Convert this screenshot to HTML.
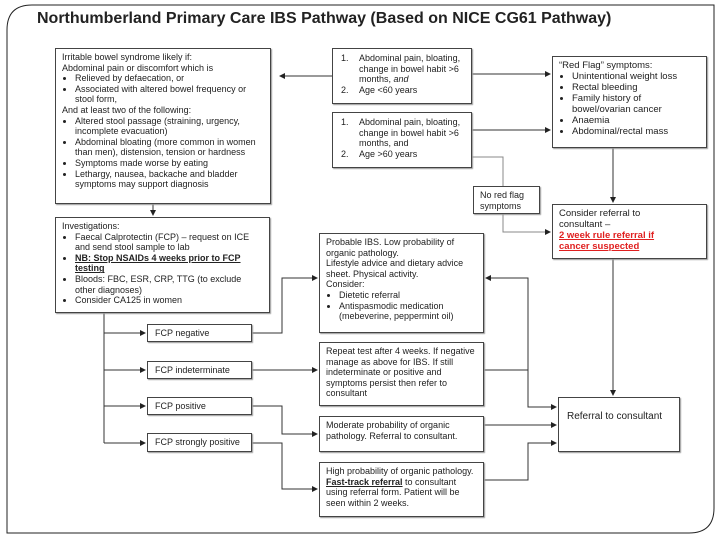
<!DOCTYPE html>
<html><head><meta charset="utf-8"><style>
body{margin:0;width:720px;height:540px;background:#fff;position:relative;overflow:hidden;font-family:"Liberation Sans",sans-serif;color:#222}
.b{position:absolute;border:1px solid #444;box-shadow:1px 1px 1px #999;background:#fff;font-size:9px;line-height:10.6px;box-sizing:border-box;padding:3px 6px}
ul{margin:0;padding:0 0 0 13px}
li{margin:0}
.n{position:relative;padding-left:18px;white-space:nowrap}
.n span{position:absolute;left:0;top:0}
.t{position:absolute;left:37px;top:10px;font-size:16px;font-weight:bold;color:#222;white-space:nowrap}
.u{font-weight:bold;text-decoration:underline}
.red{color:#e02020;font-weight:bold;text-decoration:underline}
</style></head><body>
<svg width="720" height="540" style="position:absolute;left:0;top:0">
<defs><marker id="a" markerWidth="6" markerHeight="6" refX="5" refY="3" orient="auto"><path d="M0,0 L6,3 L0,6z" fill="#222"/></marker></defs>
<path d="M32,5 H714 V508 Q714,533 689,533 H7 V30 Q7,5 32,5" fill="none" stroke="#222" stroke-width="1"/>
<g fill="none" stroke="#333" stroke-width="1">
<path d="M332,76 H280" marker-end="url(#a)"/>
<path d="M472,74 H550" marker-end="url(#a)"/>
<path d="M472,130 H550" marker-end="url(#a)"/>
<path d="M472,157 H503 V232 H550" stroke="#888" marker-end="url(#a)"/>
<path d="M613,148 V202" marker-end="url(#a)"/>
<path d="M613,259 V395" marker-end="url(#a)"/>
<path d="M153,204 V215" marker-end="url(#a)"/>
<path d="M104,313 V443"/>
<path d="M104,333 H145" marker-end="url(#a)"/>
<path d="M104,370 H145" marker-end="url(#a)"/>
<path d="M104,406 H145" marker-end="url(#a)"/>
<path d="M104,443 H145" marker-end="url(#a)"/>
<path d="M252,333 H282 V278 H317" marker-end="url(#a)"/>
<path d="M252,370 H317" marker-end="url(#a)"/>
<path d="M252,406 H282 V434 H317" marker-end="url(#a)"/>
<path d="M252,443 H282 V489 H317" marker-end="url(#a)"/>
<path d="M484,370 H528 V278 H486" marker-end="url(#a)"/>
<path d="M528,370 V407 H556" marker-end="url(#a)"/>
<path d="M484,425 H556" marker-end="url(#a)"/>
<path d="M484,480 H528 V443 H556" marker-end="url(#a)"/>
</g></svg>
<div class="t">Northumberland Primary Care IBS Pathway (Based on NICE CG61 Pathway)</div>
<div class="b" style="left:55px;top:48px;width:216px;height:156px">Irritable bowel syndrome likely if:<br>Abdominal pain or discomfort which is
<ul><li>Relieved by defaecation, or</li><li>Associated with altered bowel frequency or stool form,</li></ul>And at least two of the following:
<ul><li>Altered stool passage (straining, urgency, incomplete evacuation)</li><li>Abdominal bloating (more common in women than men), distension, tension or hardness</li><li>Symptoms made worse by eating</li><li>Lethargy, nausea, backache and bladder symptoms may support diagnosis</li></ul></div>
<div class="b" style="left:332px;top:48px;width:140px;height:56px;padding:4px 0 0 8px"><div class="n"><span>1.</span>Abdominal pain, bloating,<br>change in bowel habit &gt;6<br>months, <i>and</i></div><div class="n"><span>2.</span>Age &lt;60 years</div></div>
<div class="b" style="left:332px;top:112px;width:140px;height:56px;padding:4px 0 0 8px"><div class="n"><span>1.</span>Abdominal pain, bloating,<br>change in bowel habit &gt;6<br>months, and</div><div class="n"><span>2.</span>Age &gt;60 years</div></div>
<div class="b" style="left:552px;top:56px;width:155px;height:92px;padding-right:30px;font-size:9.5px;line-height:11px">“Red Flag” symptoms:<ul><li style="white-space:nowrap">Unintentional weight loss</li><li>Rectal bleeding</li><li>Family history of bowel/ovarian cancer</li><li>Anaemia</li><li style="white-space:nowrap">Abdominal/rectal mass</li></ul></div>
<div class="b" style="left:473px;top:186px;width:67px;height:28px">No red flag symptoms</div>
<div class="b" style="left:552px;top:204px;width:155px;height:55px;padding-right:50px;font-size:9.5px;line-height:11px">Consider referral to consultant –<br><span class="red" style="white-space:nowrap">2 week rule referral if</span><br><span class="red">cancer suspected</span></div>
<div class="b" style="left:55px;top:217px;width:215px;height:96px">Investigations:<ul><li>Faecal Calprotectin (FCP) – request on ICE and send stool sample to lab</li><li><span class="u">NB: Stop NSAIDs 4 weeks prior to FCP testing</span></li><li>Bloods: FBC, ESR, CRP, TTG (to exclude other diagnoses)</li><li>Consider CA125 in women</li></ul></div>
<div class="b" style="left:147px;top:324px;width:105px;height:18px;padding:3px 7px">FCP negative</div>
<div class="b" style="left:147px;top:361px;width:105px;height:18px;padding:3px 7px">FCP indeterminate</div>
<div class="b" style="left:147px;top:397px;width:105px;height:18px;padding:3px 7px">FCP positive</div>
<div class="b" style="left:147px;top:433px;width:105px;height:19px;padding:3px 7px">FCP strongly positive</div>
<div class="b" style="left:319px;top:233px;width:165px;height:100px">Probable IBS. Low probability of organic pathology.<br>Lifestyle advice and dietary advice sheet. Physical activity.<br>Consider:<ul><li>Dietetic referral</li><li>Antispasmodic medication (mebeverine, peppermint oil)</li></ul></div>
<div class="b" style="left:319px;top:342px;width:165px;height:64px">Repeat test after 4 weeks. If negative manage as above for IBS. If still indeterminate or positive and symptoms persist then refer to consultant</div>
<div class="b" style="left:319px;top:416px;width:165px;height:36px">Moderate probability of organic pathology. Referral to consultant.</div>
<div class="b" style="left:319px;top:462px;width:165px;height:55px">High probability of organic pathology. <span class="u">Fast-track referral</span> to consultant using referral form. Patient will be seen within 2 weeks.</div>
<div class="b" style="left:558px;top:397px;width:122px;height:55px;font-size:10px;padding:14px 8px">Referral to consultant</div>
</body></html>
